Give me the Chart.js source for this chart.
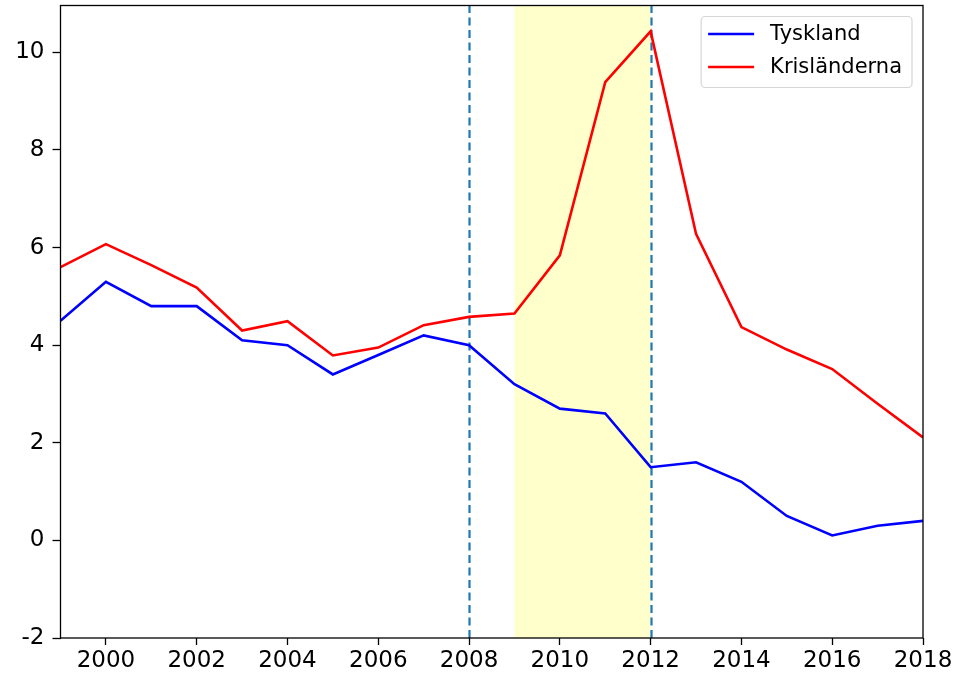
<!DOCTYPE html>
<html>
<head>
<meta charset="utf-8">
<script src="https://cdn.jsdelivr.net/npm/chart.js@4.4.1/dist/chart.umd.min.js"></script>
<style>
  html, body { margin: 0; padding: 0; background: #fff; }
  #wrap { width: 971px; height: 675px; }
</style>
</head>
<body>
<div id="wrap"><canvas id="chart" width="971" height="675"></canvas></div>
<script>
const years = [1999, 2000, 2001, 2002, 2003, 2004, 2005, 2006, 2007, 2008,
               2009, 2010, 2011, 2012, 2013, 2014, 2015, 2016, 2017, 2018];
const tyskland = [4.5, 5.3, 4.8, 4.8, 4.1, 4.0, 3.4, 3.8, 4.2, 4.0,
                  3.2, 2.7, 2.6, 1.5, 1.6, 1.2, 0.5, 0.1, 0.3, 0.4];
const krislanderna = [5.6, 6.07, 5.64, 5.18, 4.3, 4.49, 3.79, 3.95, 4.41, 4.58,
                      4.65, 5.84, 9.39, 10.43, 6.28, 4.37, 3.91, 3.51, 2.8, 2.11];
const xTicks = [2000, 2002, 2004, 2006, 2008, 2010, 2012, 2014, 2016, 2018];
const yTicks = [-2, 0, 2, 4, 6, 8, 10];
const crisisBand = [2009, 2012];
const markerYears = [2008, 2012];

const FONT = "'DejaVu Sans', sans-serif";

// yellow band + dashed vertical lines, behind the series
const backdrop = {
  id: "backdrop",
  beforeDatasetsDraw(chart) {
    const { ctx, chartArea: a, scales: { x } } = chart;
    ctx.save();
    ctx.fillStyle = "rgba(255,255,0,0.2)";
    const x0 = x.getPixelForValue(crisisBand[0]), x1 = x.getPixelForValue(crisisBand[1]);
    ctx.fillRect(x0, a.top, x1 - x0, a.bottom - a.top);
    ctx.strokeStyle = "#1f77b4";
    ctx.lineWidth = 2.2;
    ctx.setLineDash([8, 4.5]);
    markerYears.forEach(yr => {
      const px = Math.round(x.getPixelForValue(yr)) + 0.5;
      ctx.beginPath();
      ctx.moveTo(px, a.bottom);
      ctx.lineTo(px, a.top);
      ctx.stroke();
    });
    ctx.restore();
  }
};

// axes frame and legend box in the upper right
const frameAndLegend = {
  id: "frameAndLegend",
  afterDatasetsDraw(chart) {
    const { ctx, chartArea: a } = chart;
    ctx.save();
    ctx.strokeStyle = "#000";
    ctx.lineWidth = 1.3;
    ctx.strokeRect(a.left, a.top, a.right - a.left, a.bottom - a.top);

    ctx.font = "21px " + FONT;
    const sets = chart.data.datasets;
    const textW = Math.max(...sets.map(d => ctx.measureText(d.label).width));
    const w = 7 + 46 + 16 + textW + 10;
    const h = 71;
    const right = a.right - 11, top = a.top + 11;
    const left = right - w;
    ctx.beginPath();
    ctx.roundRect(left, top, w, h, 4);
    ctx.fillStyle = "rgba(255,255,255,0.8)";
    ctx.fill();
    ctx.strokeStyle = "#d6d6d6";
    ctx.lineWidth = 1.2;
    ctx.stroke();

    sets.forEach((d, i) => {
      const cy = top + 17.5 + i * 33;
      ctx.strokeStyle = d.borderColor;
      ctx.lineWidth = 2.5;
      ctx.beginPath();
      ctx.moveTo(left + 7, cy);
      ctx.lineTo(left + 53, cy);
      ctx.stroke();
      ctx.fillStyle = "#000";
      ctx.textBaseline = "middle";
      ctx.textAlign = "left";
      ctx.fillText(d.label, left + 69, cy + 1);
    });
    ctx.restore();
  }
};

const toPoints = vals => years.map((yr, i) => ({ x: yr, y: vals[i] }));

new Chart(document.getElementById("chart"), {
  type: "line",
  data: {
    datasets: [
      { label: "Tyskland", data: toPoints(tyskland), borderColor: "#0000ff",
        borderWidth: 2.6, pointRadius: 0, tension: 0 },
      { label: "Krisländerna", data: toPoints(krislanderna), borderColor: "#ff0000",
        borderWidth: 2.6, pointRadius: 0, tension: 0 }
    ]
  },
  options: {
    responsive: false,
    animation: false,
    layout: { padding: { top: 5.5, right: 48, left: 0, bottom: 0 } },
    plugins: { legend: { display: false }, tooltip: { enabled: false } },
    scales: {
      x: {
        type: "linear", min: 1999, max: 2018,
        afterBuildTicks: s => { s.ticks = xTicks.map(v => ({ value: v })); },
        afterFit: s => { s.height = 37; s.paddingLeft = 0; s.paddingRight = 0; },
        border: { display: false },
        grid: { drawOnChartArea: false, drawTicks: true, tickLength: 7, tickColor: "#000", tickWidth: 1.3 },
        ticks: { color: "#000", font: { family: FONT, size: 23 }, padding: 2,
                 maxRotation: 0, autoSkip: false, callback: v => String(v) }
      },
      y: {
        min: -2, max: 10.96,
        afterBuildTicks: s => { s.ticks = yTicks.map(v => ({ value: v })); },
        afterFit: s => { s.width = 60.5; s.paddingTop = 0; s.paddingBottom = 0; },
        border: { display: false },
        grid: { drawOnChartArea: false, drawTicks: true, tickLength: 8, tickColor: "#000", tickWidth: 1.3 },
        ticks: { color: "#000", font: { family: FONT, size: 23 }, padding: 8,
                 callback: v => String(v) }
      }
    }
  },
  plugins: [backdrop, frameAndLegend]
});
</script>
</body>
</html>
